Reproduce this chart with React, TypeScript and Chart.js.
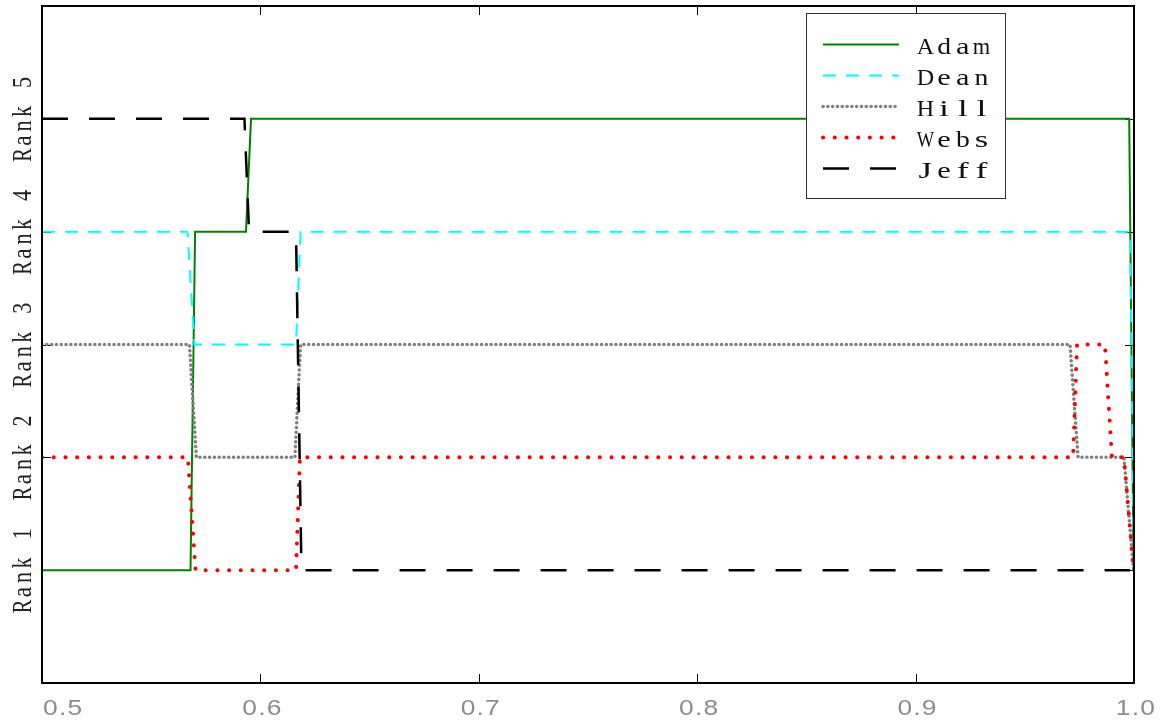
import React, { useEffect, useRef } from "react";
import { Chart, registerables } from "chart.js";

Chart.register(...registerables);

// ---------- data ----------
const SERIES_NAMES = ["Adam", "Dean", "Hill", "Webs", "Jeff"];

const ADAM_X = [0.5, 0.568, 0.5701, 0.5934, 0.5957, 0.9978, 0.9998, 1.0];
const ADAM_Y = [1, 1, 4, 4, 5, 5, 1, 1];

const DEAN_X = [0.5, 0.5666, 0.5698, 0.6163, 0.6184, 0.9982, 1.0];
const DEAN_Y = [4, 4, 3, 3, 4, 4, 1];

const HILL_X = [0.5, 0.5675, 0.5707, 0.6158, 0.6184, 0.9707, 0.9744, 0.9954, 0.9998, 1.0];
const HILL_Y = [3, 3, 2, 2, 3, 3, 2, 2, 1, 1];

const WEBS_X = [0.5, 0.5668, 0.5703, 0.6163, 0.6181, 0.9721, 0.9739, 0.9867, 0.9899, 0.9954, 0.9998, 1.0];
const WEBS_Y = [2, 2, 1, 1, 2, 2, 3, 3, 2, 2, 1, 1];

const JEFF_X = [0.5, 0.5927, 0.5948, 0.6163, 0.6188, 0.9982];
const JEFF_Y = [5, 5, 4, 4, 1, 1];

const X_TICKS = [0.5, 0.6, 0.7, 0.8, 0.9, 1.0];
const X_TICK_LABELS = ["0.5", "0.6", "0.7", "0.8", "0.9", "1.0"];
const Y_TICKS = [1, 2, 3, 4, 5];
const Y_TICK_LABELS = ["Rank 1", "Rank 2", "Rank 3", "Rank 4", "Rank 5"];

const X_MIN = 0.5;
const X_MAX = 1.0;
const Y_MIN = 0;
const Y_MAX = 6;

const toPoints = (xs: number[], ys: number[]) => xs.map((x, i) => ({ x, y: ys[i] }));

// draw text as fixed-width cells (courier-like), starting at current origin
function drawCells(ctx: CanvasRenderingContext2D, text: string, cell: number, maxW: number) {
  for (let i = 0; i < text.length; i++) {
    const ch = text[i];
    if (ch === " ") continue;
    const w = ctx.measureText(ch).width;
    let s = 1;
    if (w > maxW) s = maxW / w;
    else if (w < 0.72 * cell) s = Math.min(1.3, (0.72 * cell) / w);
    ctx.save();
    ctx.translate((i + 0.5) * cell, 0);
    ctx.scale(s, 1);
    ctx.textAlign = "center";
    ctx.fillText(ch, 0, 0);
    ctx.restore();
  }
}

const decorPlugin = {
  id: "decor",
  beforeDatasetsDraw(chart: any) {
    const { ctx, chartArea: ca, scales } = chart;
    const xs = scales.x;
    const ys = scales.y;
    ctx.save();
    ctx.strokeStyle = "#000";
    ctx.lineWidth = 1;
    const tl = 9;
    ctx.beginPath();
    X_TICKS.forEach((v) => {
      const px = Math.round(xs.getPixelForValue(v)) + 0.5;
      ctx.moveTo(px, ca.bottom);
      ctx.lineTo(px, ca.bottom - tl);
      ctx.moveTo(px, ca.top);
      ctx.lineTo(px, ca.top + tl);
    });
    Y_TICKS.forEach((v) => {
      const py = Math.round(ys.getPixelForValue(v)) + 0.5;
      ctx.moveTo(ca.left, py);
      ctx.lineTo(ca.left + tl, py);
      ctx.moveTo(ca.right, py);
      ctx.lineTo(ca.right - tl, py);
    });
    ctx.stroke();
    ctx.restore();
  },
  afterDatasetsDraw(chart: any) {
    const { ctx, chartArea: ca } = chart;
    ctx.save();
    // axes box
    ctx.strokeStyle = "#000";
    ctx.lineWidth = 2;
    ctx.strokeRect(ca.left, ca.top, ca.right - ca.left, ca.bottom - ca.top);

    // legend box
    const lx = ca.right - 328;
    const ly = ca.top + 7;
    const lw = 199;
    const lh = 185;
    ctx.fillStyle = "#fff";
    ctx.fillRect(lx, ly, lw, lh);
    ctx.strokeStyle = "#333";
    ctx.lineWidth = 1;
    ctx.strokeRect(lx + 0.5, ly + 0.5, lw, lh);

    chart.data.datasets.forEach((ds: any, i: number) => {
      const rowY = Math.round(ly + 31 + i * 31) + 0.5;
      ctx.save();
      ctx.strokeStyle = ds.borderColor;
      ctx.lineWidth = ds.borderWidth;
      ctx.lineCap = ds.borderCapStyle || "butt";
      ctx.setLineDash(ds.borderDash || []);
      ctx.beginPath();
      ctx.moveTo(lx + 17, rowY);
      ctx.lineTo(lx + 93, rowY);
      ctx.stroke();
      ctx.restore();

      ctx.save();
      ctx.fillStyle = "#111";
      ctx.font = '23px "Liberation Serif"';
      ctx.textBaseline = "alphabetic";
      ctx.translate(lx + 110, rowY + 9);
      ctx.scale(1.2, 1);
      drawCells(ctx, ds.label, 15.6, 14.5);
      ctx.restore();
    });
    ctx.restore();
  },
  afterDraw(chart: any) {
    const { ctx, chartArea: ca, scales } = chart;
    const xs = scales.x;
    const ys = scales.y;

    // y tick labels (rotated)
    Y_TICKS.forEach((v, i) => {
      const py = ys.getPixelForValue(v);
      const text = Y_TICK_LABELS[i];
      const cell = 14.5;
      ctx.save();
      ctx.fillStyle = "#222";
      ctx.font = '22px "Liberation Serif"';
      ctx.textBaseline = "alphabetic";
      ctx.translate(ca.left - 11.3, py);
      ctx.rotate(-Math.PI / 2);
      ctx.scale(1, 1.2);
      ctx.translate((-text.length * cell) / 2, 0);
      drawCells(ctx, text, cell, 13.5);
      ctx.restore();
    });

    // x tick labels
    X_TICKS.forEach((v, i) => {
      const px = xs.getPixelForValue(v);
      ctx.save();
      ctx.fillStyle = "#8c8c8c";
      ctx.font = '22px "Liberation Sans"';
      (ctx as any).letterSpacing = "1px";
      ctx.textBaseline = "alphabetic";
      ctx.textAlign = i === 0 ? "left" : "center";
      ctx.translate(i === 0 ? px + 1 : px + 2, ca.bottom + 32);
      ctx.scale(1.2, 1);
      ctx.fillText(X_TICK_LABELS[i], 0, 0);
      ctx.restore();
    });
  },
};

export default function App() {
  const canvasRef = useRef<HTMLCanvasElement>(null);

  useEffect(() => {
    if (!canvasRef.current) return;
    const chart = new Chart(canvasRef.current, {
      type: "line",
      data: {
        datasets: [
          {
            label: SERIES_NAMES[0],
            data: toPoints(ADAM_X, ADAM_Y),
            borderColor: "#008000",
            borderWidth: 2,
            borderDash: [],
            order: 5,
          },
          {
            label: SERIES_NAMES[1],
            data: toPoints(DEAN_X, DEAN_Y),
            borderColor: "#00ffff",
            borderWidth: 2,
            borderDash: [13, 10],
            order: 4,
          },
          {
            label: SERIES_NAMES[2],
            data: toPoints(HILL_X, HILL_Y),
            borderColor: "#808080",
            borderWidth: 3.5,
            borderDash: [0.1, 4.7],
            borderCapStyle: "round",
            order: 3,
          },
          {
            label: SERIES_NAMES[3],
            data: toPoints(WEBS_X, WEBS_Y),
            borderColor: "#ff0000",
            borderWidth: 4,
            borderDash: [0.1, 11.6],
            borderCapStyle: "round",
            order: 2,
          },
          {
            label: SERIES_NAMES[4],
            data: toPoints(JEFF_X, JEFF_Y),
            borderColor: "#000000",
            borderWidth: 2.5,
            borderDash: [26, 21],
            order: 1,
          },
        ] as any,
      },
      options: {
        animation: false,
        responsive: true,
        maintainAspectRatio: false,
        layout: { padding: { left: 42, right: 29, top: 6, bottom: 44 } },
        elements: {
          point: { radius: 0, hoverRadius: 0 },
          line: { tension: 0, fill: false },
        },
        plugins: {
          legend: { display: false },
          tooltip: { enabled: false },
        },
        scales: {
          x: { type: "linear", min: X_MIN, max: X_MAX, display: false },
          y: { type: "linear", min: Y_MIN, max: Y_MAX, display: false },
        },
      },
      plugins: [decorPlugin],
    } as any);
    return () => chart.destroy();
  }, []);

  return (
    <div style={{ position: "fixed", left: 0, top: 0, width: 1163, height: 727, background: "#fff" }}>
      <canvas ref={canvasRef} />
    </div>
  );
}
